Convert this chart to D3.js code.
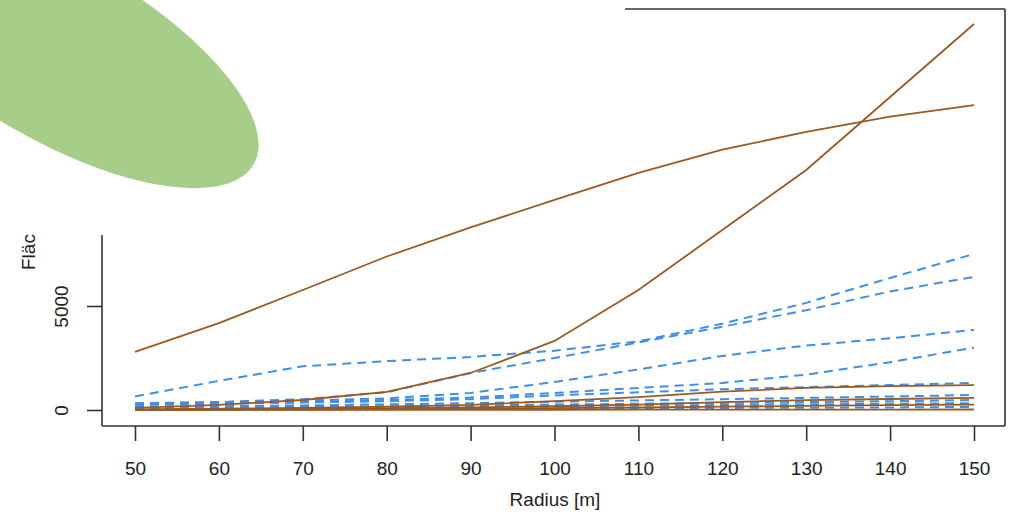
<!DOCTYPE html>
<html lang="de">
<head>
    <meta charset="UTF-8">
    <title>Fläche vs Radius</title>
    <script src="https://d3js.org/d3.v7.min.js"></script>
    <style>
        body {
            margin: 0;
            padding: 0;
            background: white;
        }
        svg {
            display: block;
            font-family: 'Liberation Sans', Arial, sans-serif;
        }
        text {
            fill: #222;
            font-size: 19px;
        }
    </style>
</head>
<body>
    <svg width="1010" height="513"></svg>

    <script>
        const radius = [50, 60, 70, 80, 90, 100, 110, 120, 130, 140, 150];

        // solid brown series
        const brownSeries = [
            [2790, 4180, 5770, 7380, 8780, 10100, 11400, 12520, 13370, 14100, 14660],
            [100, 250, 480, 870, 1780, 3320, 5770, 8650, 11540, 15050, 18560],
            [30, 60, 100, 160, 250, 430, 620, 880, 1060, 1150, 1200],
            [10, 30, 60, 90, 130, 180, 260, 380, 470, 530, 580],
            [5, 10, 20, 40, 60, 90, 120, 160, 200, 230, 260],
            [0, 2, 5, 8, 10, 12, 14, 16, 18, 20, 25]
        ];

        // dashed blue series
        const blueSeries = [
            [650, 1400, 2100, 2350, 2550, 2850, 3300, 4150, 5150, 6350, 7500],
            [300, 380, 520, 850, 1780, 2500, 3250, 4000, 4800, 5700, 6400],
            [330, 380, 450, 560, 820, 1350, 1950, 2600, 3100, 3450, 3850],
            [250, 300, 380, 480, 600, 820, 1060, 1300, 1700, 2300, 3000],
            [250, 300, 360, 420, 520, 700, 850, 1000, 1100, 1200, 1300],
            [150, 180, 220, 270, 330, 400, 460, 520, 580, 650, 720],
            [100, 120, 150, 180, 220, 260, 300, 340, 380, 420, 480],
            [60, 80, 100, 120, 150, 180, 210, 240, 270, 300, 330],
            [30, 40, 50, 60, 70, 80, 90, 100, 110, 120, 150]
        ];

        const xTicks = [50, 60, 70, 80, 90, 100, 110, 120, 130, 140, 150];
        const yTicks = [0, 5000];

        const svg = d3.select("svg");

        const x = d3.scaleLinear().domain([50, 150]).range([135, 974]);
        const y = d3.scaleLinear().domain([0, 5000]).range([410, 306]);

        // green blob in the corner
        svg.append("ellipse")
           .attr("cx", 57)
           .attr("cy", 51)
           .attr("rx", 227)
           .attr("ry", 89)
           .attr("transform", "rotate(30, 57, 51)")
           .attr("fill", "#a6ce89");

        const line = d3.line()
            .x((d, i) => x(radius[i]))
            .y(d => y(d));

        svg.selectAll(".blue")
           .data(blueSeries)
           .enter()
           .append("path")
           .attr("class", "blue")
           .attr("d", line)
           .attr("fill", "none")
           .attr("stroke", "#3f8fe6")
           .attr("stroke-width", 2)
           .attr("stroke-dasharray", "9,6");

        svg.selectAll(".brown")
           .data(brownSeries)
           .enter()
           .append("path")
           .attr("class", "brown")
           .attr("d", line)
           .attr("fill", "none")
           .attr("stroke", "#9a5a24")
           .attr("stroke-width", 1.8);

        // box pieces that are visible
        const axisColor = "#333";
        svg.append("line")
           .attr("x1", 102).attr("y1", 426).attr("x2", 1005).attr("y2", 426)
           .attr("stroke", axisColor).attr("stroke-width", 1.6);
        svg.append("line")
           .attr("x1", 102).attr("y1", 235).attr("x2", 102).attr("y2", 426)
           .attr("stroke", axisColor).attr("stroke-width", 1.6);
        svg.append("line")
           .attr("x1", 1005).attr("y1", 9).attr("x2", 1005).attr("y2", 426)
           .attr("stroke", axisColor).attr("stroke-width", 1.6);
        svg.append("line")
           .attr("x1", 625).attr("y1", 9).attr("x2", 1005).attr("y2", 9)
           .attr("stroke", axisColor).attr("stroke-width", 1.6);

        // x axis
        const xAxis = d3.axisBottom(x)
            .tickValues(xTicks)
            .tickSize(15)
            .tickPadding(21)
            .tickSizeOuter(0);
        const gx = svg.append("g")
            .attr("transform", "translate(0,426)")
            .call(xAxis);
        gx.select(".domain").remove();
        gx.selectAll("line").attr("stroke", axisColor).attr("stroke-width", 1.6);
        gx.selectAll("text")
          .attr("fill", "#222")
          .style("font-size", "19px")
          .style("font-family", "'Liberation Sans', Arial, sans-serif");

        // y axis
        const yAxis = d3.axisLeft(y)
            .tickValues(yTicks)
            .tickFormat(d3.format("d"))
            .tickSize(15)
            .tickSizeOuter(0);
        const gy = svg.append("g")
            .attr("transform", "translate(102,0)")
            .call(yAxis);
        gy.select(".domain").remove();
        gy.selectAll("line").attr("stroke", axisColor).attr("stroke-width", 1.6);
        gy.selectAll("text")
          .attr("x", 0)
          .attr("dy", 0)
          .attr("transform", "translate(-34,0) rotate(-90)")
          .attr("text-anchor", "middle")
          .attr("fill", "#222")
          .style("font-size", "19px")
          .style("font-family", "'Liberation Sans', Arial, sans-serif");

        svg.append("text")
           .attr("x", 555)
           .attr("y", 506)
           .attr("text-anchor", "middle")
           .text("Radius [m]");

        svg.append("text")
           .attr("transform", "translate(35,270) rotate(-90)")
           .attr("text-anchor", "start")
           .text("Fläc");
    </script>
</body>
</html>
